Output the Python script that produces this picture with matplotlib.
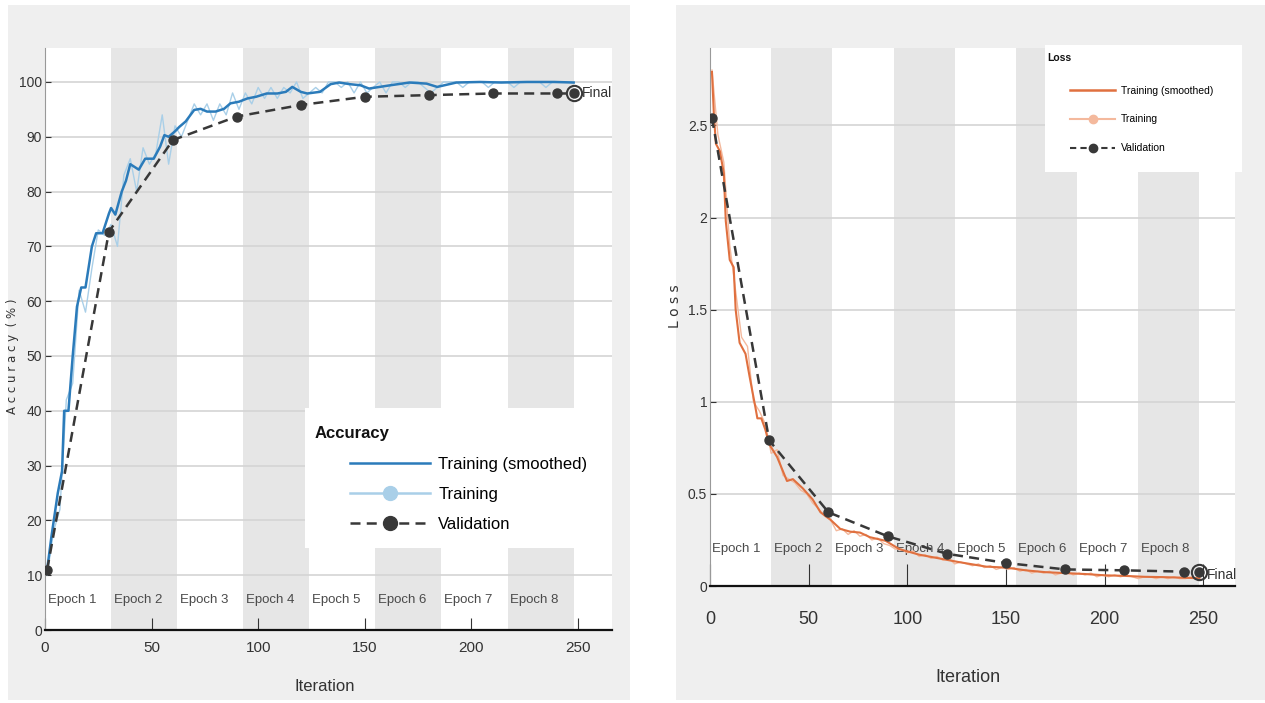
import numpy as np
import matplotlib.pyplot as plt
from matplotlib.patches import Rectangle
from matplotlib.lines import Line2D
from matplotlib import font_manager

# ---- donnees ----
epoch_labels = ["Epoch 1", "Epoch 2", "Epoch 3", "Epoch 4", "Epoch 5", "Epoch 6", "Epoch 7", "Epoch 8"]
epoch_starts = [0, 31, 62, 93, 124, 155, 186, 217]
epoch_len = 31

# precision lissee (iteration, %)
acc_smooth_it = [1, 3, 6, 8, 9, 11, 13, 15, 17, 19, 20, 22, 24, 27, 30, 31, 33, 36, 38, 40, 44, 47, 51, 54,
                 56, 58, 61, 63, 66, 70, 73, 76, 80, 84, 87, 91, 95, 99, 104, 109, 113, 116, 120, 123, 129,
                 134, 138, 143, 148, 152, 162, 171, 179, 184, 193, 204, 214, 226, 239, 248]
acc_smooth = [11, 17, 25, 29, 40, 40, 50, 59, 62.5, 62.5, 65, 70, 72.4, 72.4, 76, 77, 75.8, 80, 82, 85, 84, 86, 86, 88.2,
              90.3, 90, 91, 91.8, 92.8, 94.9, 95.1, 94.6, 94.6, 95.1, 96.1, 96.4, 97, 97.3, 97.9, 97.9, 98.2, 99.1,
              98.2, 97.9, 98.2, 99.6, 99.9, 99.6, 99.4, 98.8, 99.4, 99.9, 99.7, 99.1, 99.9, 100, 99.9, 100, 100, 99.9]

# precision brute (une valeur toutes les 3 iterations)
raw_it = list(range(1, 248, 3))
acc_raw = [10, 18, 22, 42, 45, 62, 58, 66, 73, 72, 74, 70, 83, 86, 80, 88, 85, 87, 94, 85, 92, 90, 93, 96, 94,
           96, 93, 96, 94, 98, 95, 98, 96, 99, 97, 99, 97, 99, 98, 100, 97, 98, 99, 98, 100, 100, 99, 100, 98,
           100, 98, 99, 100, 98, 100, 100, 99, 100, 100, 99, 98, 99, 100, 100, 100, 99, 100, 100, 100, 99, 100,
           100, 100, 99, 100, 100, 100, 100, 99, 100, 100, 100, 100]

# validation
val_it = [1, 30, 60, 90, 120, 150, 180, 210, 240, 248]
acc_val = [11, 72.7, 89.4, 93.7, 95.8, 97.3, 97.6, 97.9, 97.9, 97.9]
loss_val = [2.54, 0.79, 0.40, 0.27, 0.175, 0.125, 0.09, 0.085, 0.078, 0.078]

# perte lissee
loss_smooth_it = [1, 2, 3, 5, 7, 8, 10, 12, 13, 15, 18, 20, 23, 24, 26, 28, 30, 34, 39, 42, 47, 52, 56, 61,
                  66, 71, 76, 81, 89, 96, 106, 116, 126, 140, 150, 160, 170, 180, 190, 200, 210, 220, 230, 240, 248]
loss_smooth = [2.79, 2.55, 2.4, 2.36, 2.24, 1.98, 1.77, 1.73, 1.5, 1.32, 1.26, 1.14, 0.97, 0.91, 0.91, 0.85,
               0.77, 0.70, 0.57, 0.58, 0.53, 0.47, 0.40, 0.36, 0.31, 0.295, 0.29, 0.265, 0.245, 0.2, 0.17, 0.15,
               0.13, 0.105, 0.1, 0.085, 0.075, 0.07, 0.065, 0.058, 0.055, 0.05, 0.048, 0.045, 0.042]

loss_raw = [2.8, 2.45, 2.3, 1.85, 1.6, 1.35, 1.3, 1.0, 0.95, 0.88, 0.72, 0.74, 0.6, 0.58, 0.56, 0.52, 0.50,
            0.45, 0.42, 0.38, 0.36, 0.30, 0.31, 0.28, 0.30, 0.27, 0.28, 0.25, 0.26, 0.23, 0.22, 0.2, 0.2, 0.18,
            0.19, 0.16, 0.17, 0.15, 0.16, 0.14, 0.15, 0.12, 0.13, 0.12, 0.11, 0.12, 0.10, 0.11, 0.09, 0.10, 0.09,
            0.10, 0.08, 0.09, 0.07, 0.08, 0.07, 0.08, 0.06, 0.07, 0.08, 0.06, 0.07, 0.06, 0.07, 0.05, 0.06, 0.05,
            0.06, 0.05, 0.06, 0.05, 0.04, 0.05, 0.05, 0.04, 0.05, 0.04, 0.05, 0.04, 0.04, 0.05, 0.04]

# ---- style ----
installed = {f.name for f in font_manager.fontManager.ttflist}
narrow = ['Liberation Sans Narrow', 'DejaVu Sans'] if 'Liberation Sans Narrow' in installed else ['Liberation Sans', 'DejaVu Sans']
plain = ['Liberation Sans', 'DejaVu Sans']
band_col = '#e6e6e6'
grid_col = '#d4d4d4'
val_col = '#383838'

W, H = 1265, 703
fig = plt.figure(figsize=(W / 100, H / 100), dpi=100)
fig.patch.set_facecolor('white')

#fonds gris des deux fenetres (derriere les axes)
fig.patches.append(Rectangle((8 / W, 3 / H), (630 - 8) / W, (698 - 3) / H, transform=fig.transFigure,
                             facecolor='#efefef', edgecolor='none', zorder=-5))
fig.patches.append(Rectangle((676 / W, 3 / H), (W - 676) / W, (698 - 3) / H, transform=fig.transFigure,
                             facecolor='#efefef', edgecolor='none', zorder=-5))


def preparerAxe(ax, ymax, yticks, ytlabels, ep_y, xt_size, tick_len, xpad):
    ax.set_xlim(0, 266)
    ax.set_ylim(0, ymax)
    for k, s in enumerate(epoch_starts):
        if k % 2 == 1:
            ax.axvspan(s, s + epoch_len, color=band_col, lw=0, zorder=0)
        ax.text(s + 1.2, ep_y, epoch_labels[k], family=narrow, fontsize=9.5, color='#4a4a4a',
                ha='left', va='center', zorder=1)
    for t in yticks[1:]:
        ax.axhline(t, color=grid_col, lw=1.2, zorder=0.5)
    ax.set_yticks(yticks)
    ax.set_yticklabels(ytlabels, family=narrow, fontsize=10, color='#333333')
    ax.set_xticks([0, 50, 100, 150, 200, 250])
    ax.set_xticklabels(['0', '50', '100', '150', '200', '250'], family=narrow, fontsize=xt_size, color='#333333')
    ax.tick_params(axis='x', direction='in', length=tick_len, width=0.8, color='#333333', pad=xpad)
    ax.tick_params(axis='y', direction='in', length=4, width=0.8, color='#333333', pad=2)
    for side in ['top', 'right']:
        ax.spines[side].set_visible(False)
    ax.spines['left'].set_color('#999999')
    ax.spines['bottom'].set_color('#111111')
    ax.spines['bottom'].set_linewidth(1.6)
    ax.set_facecolor('white')


# ---- Accuracy ----
ax1 = fig.add_axes([45 / W, 1 - 630 / H, (612 - 45) / W, (630 - 48) / H])
preparerAxe(ax1, 106.2, list(range(0, 101, 10)), [str(v) for v in range(0, 101, 10)], 5.5, 11, 9, 8)
ax1.plot(raw_it, acc_raw, color='#a9cfe8', lw=1, zorder=2)
ax1.plot(acc_smooth_it, acc_smooth, color='#2b7bba', lw=1.8, zorder=3)
ax1.plot(val_it, acc_val, color=val_col, lw=1.8, ls=(0, (4, 2.5)), marker='o', ms=6.5, zorder=4)
ax1.plot([val_it[-1]], [acc_val[-1]], marker='o', ms=11, mfc='none', mec=val_col, mew=1.5, zorder=5)
ax1.text(val_it[-1] + 4, acc_val[-1], "Final", family=narrow, fontsize=10, color='#333333', va='center')
ax1.set_ylabel("A c c u r a c y  ( % )", fontsize=8.5, color='#333333')
ax1.yaxis.set_label_coords(-0.046, 0.47)
ax1.set_xlabel("Iteration", family=narrow, fontsize=12, color='#333333')
ax1.xaxis.set_label_coords(0.494, -0.085)

ax1.add_patch(Rectangle((0.4586, 0.1409), 0.5414, 0.2405, transform=ax1.transAxes, facecolor='white',
                        edgecolor='none', zorder=6, clip_on=False))
ax1.text(0.476, 0.338, "Accuracy", transform=ax1.transAxes, family=plain, fontsize=12, fontweight='bold',
         color='#111111', va='center', ha='left', zorder=7)
h1 = [Line2D([], [], color='#2b7bba', lw=1.8),
      Line2D([], [], color='#a9cfe8', lw=1.8, marker='o', ms=10),
      Line2D([], [], color=val_col, lw=1.8, ls=(0, (4, 2.5)), marker='o', ms=10)]
leg1 = ax1.legend(h1, ["Training (smoothed)", "Training", "Validation"],
                  loc='upper left', bbox_to_anchor=(0.538, 0.297), frameon=False,
                  prop={'family': plain, 'size': 12}, handlelength=4.8, handletextpad=0.5,
                  labelspacing=0.9, borderaxespad=0, borderpad=0)
leg1.set_zorder(7)

# ---- Loss ----
ax2 = fig.add_axes([710 / W, 1 - 586 / H, (1235 - 710) / W, (586 - 48) / H])
preparerAxe(ax2, 2.92, [0, 0.5, 1, 1.5, 2, 2.5], ['0', '0.5', '1', '1.5', '2', '2.5'], 0.2, 13, 16, 18)
ax2.plot(raw_it, loss_raw, color='#f4b99d', lw=1, zorder=2)
ax2.plot(loss_smooth_it, loss_smooth, color='#e0703f', lw=1.5, zorder=3)
ax2.plot(val_it, loss_val, color=val_col, lw=1.8, ls=(0, (4, 2.5)), marker='o', ms=6.5, zorder=4)
ax2.plot([val_it[-1]], [loss_val[-1]], marker='o', ms=11, mfc='none', mec=val_col, mew=1.5, zorder=5)
ax2.text(val_it[-1] + 4, loss_val[-1] - 0.02, "Final", family=narrow, fontsize=10, color='#333333', va='center')
ax2.set_ylabel("L o s s", fontsize=10, color='#333333')
ax2.yaxis.set_label_coords(-0.053, 0.52)
ax2.set_xlabel("Iteration", family=narrow, fontsize=13, color='#333333')
ax2.xaxis.set_label_coords(0.491, -0.155)

ax2.add_patch(Rectangle((0.638, 0.77), 0.375, 0.236, transform=ax2.transAxes, facecolor='white',
                        edgecolor='none', zorder=6, clip_on=False))
ax2.text(0.642, 0.981, "Loss", transform=ax2.transAxes, family=plain, fontsize=7.5, fontweight='bold',
         color='#111111', va='center', ha='left', zorder=7)
h2 = [Line2D([], [], color='#e0703f', lw=1.8),
      Line2D([], [], color='#f4b99d', lw=1.5, marker='o', ms=6),
      Line2D([], [], color=val_col, lw=1.5, ls=(0, (3, 2)), marker='o', ms=6)]
leg2 = ax2.legend(h2, ["Training (smoothed)", "Training", "Validation"],
                  loc='upper left', bbox_to_anchor=(0.686, 0.93), frameon=False,
                  prop={'family': plain, 'size': 7.5}, handlelength=4.3, handletextpad=0.6,
                  labelspacing=1.8, borderaxespad=0, borderpad=0)
leg2.set_zorder(7)

fig.savefig("out.png", dpi=100, facecolor=fig.get_facecolor())
